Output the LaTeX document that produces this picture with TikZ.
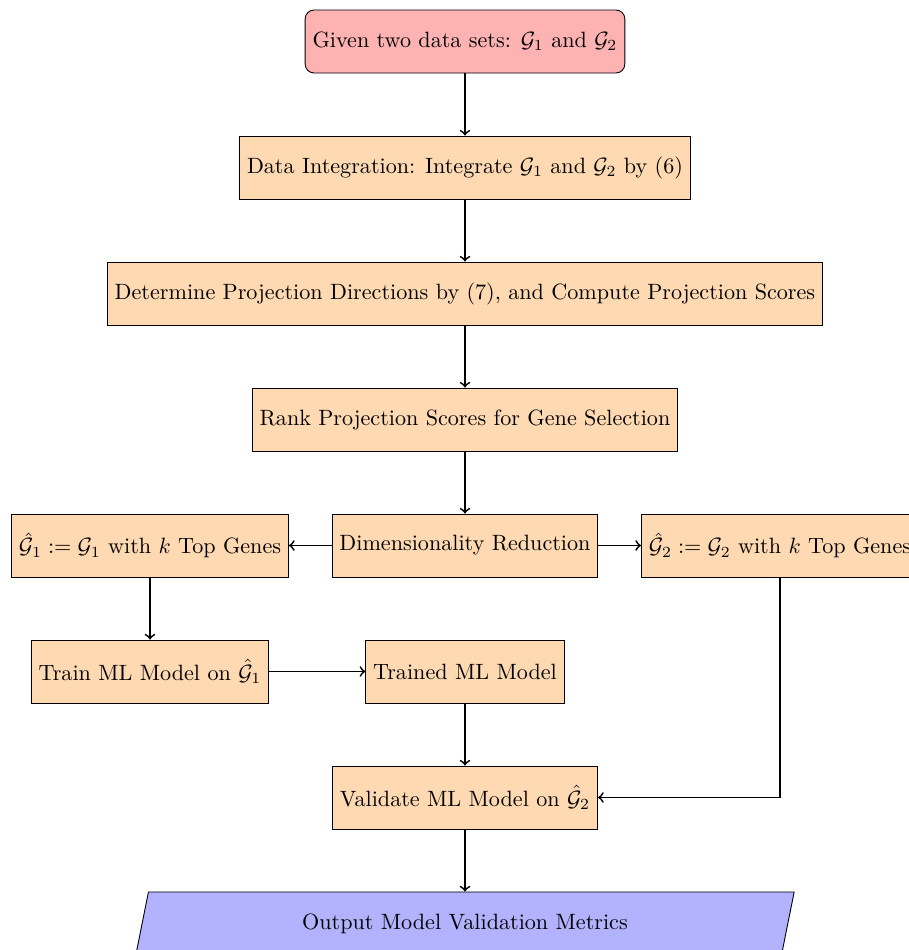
\documentclass[tikz,border=0pt]{standalone}
\usepackage{amsmath}
\usetikzlibrary{shapes.geometric}
\begin{document}
\begin{tikzpicture}[
  startbox/.style={rectangle, rounded corners, draw=black, fill=red!30, minimum height=1cm, align=center},
  procbox/.style={rectangle, draw=black, fill=orange!30, minimum height=1cm, align=center},
  iobox/.style={trapezium, trapezium left angle=70, trapezium right angle=110, draw=black, fill=blue!30, minimum height=1cm, minimum width=10.45cm, trapezium stretches body, align=center},
  arr/.style={thick,->}
]
\useasboundingbox (-7.381,0.659) rectangle (7.048,-14.421);
\node[startbox] (start) at (0,0) {Given two data sets: $\mathcal{G}_1$ and $\mathcal{G}_2$};
\node[procbox] (integ) at (0,-2) {Data Integration: Integrate $\mathcal{G}_1$ and $\mathcal{G}_2$ by (6)};
\node[procbox] (proj) at (0,-4) {Determine Projection Directions by (7), and Compute Projection Scores};
\node[procbox] (rank) at (0,-6) {Rank Projection Scores for Gene Selection};
\node[procbox] (dimred) at (0,-8) {Dimensionality Reduction};
\node[procbox] (gone) at (-5,-8) {$\hat{\mathcal{G}}_1 := \mathcal{G}_1$ with $k$ Top Genes};
\node[procbox] (gtwo) at (5,-8) {$\hat{\mathcal{G}}_2 := \mathcal{G}_2$ with $k$ Top Genes};
\node[procbox] (train) at (-5,-10) {Train ML Model on $\hat{\mathcal{G}}_1$};
\node[procbox] (trained) at (0,-10) {Trained ML Model};
\node[procbox] (valid) at (0,-12) {Validate ML Model on $\hat{\mathcal{G}}_2$};
\node[iobox] (out) at (0,-14) {Output Model Validation Metrics};
\draw[arr] (start) -- (integ);
\draw[arr] (integ) -- (proj);
\draw[arr] (proj) -- (rank);
\draw[arr] (rank) -- (dimred);
\draw[arr] (dimred) -- (gone);
\draw[arr] (dimred) -- (gtwo);
\draw[arr] (gone) -- (train);
\draw[arr] (train) -- (trained);
\draw[arr] (trained) -- (valid);
\draw[arr] (gtwo.south) |- (valid.east);
\draw[arr] (valid) -- (out);
\end{tikzpicture}
\end{document}
